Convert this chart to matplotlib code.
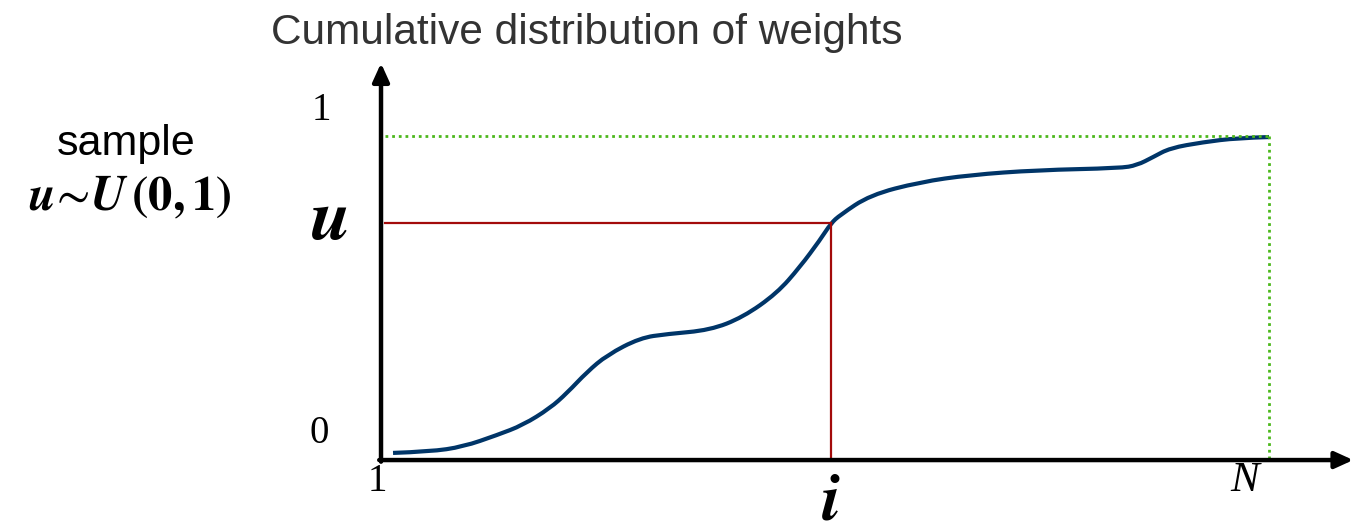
import matplotlib
matplotlib.use("Agg")
import matplotlib.pyplot as plt
from matplotlib.path import Path
from matplotlib.patches import PathPatch

plt.rcParams['mathtext.fontset'] = 'cm'

# cumulative weight curve over particle index 1..N (N drawn as 100)
n_max = 100
idx = [2.34, 6.46, 10.14, 13.93, 16.83, 19.84, 21.74, 23.97, 26.20, 29.88,
       32.89, 37.68, 41.36, 45.15, 47.71, 49.94, 51.17, 52.17, 55.52, 61.09,
       66.67, 74.14, 83.39, 85.29, 87.07, 88.97, 92.64, 96.44, 100.0]
cdf = [0.022, 0.026, 0.041, 0.077, 0.108, 0.160, 0.207, 0.272, 0.324, 0.377,
       0.389, 0.401, 0.441, 0.515, 0.596, 0.679, 0.731, 0.756, 0.818, 0.858,
       0.880, 0.895, 0.901, 0.910, 0.935, 0.963, 0.981, 0.994, 0.997]

# sampled u and the index it selects
u_val = 0.731
i_val = 51.17


def smooth_path(xs, ys):
    # quadratic bezier through midpoints, data points act as control points
    pts = list(zip(xs, ys))
    verts = [pts[0]]
    codes = [Path.MOVETO]
    for k in range(1, len(pts) - 1):
        mid = ((pts[k][0] + pts[k + 1][0]) / 2, (pts[k][1] + pts[k + 1][1]) / 2)
        end = pts[k + 1] if k == len(pts) - 2 else mid
        verts += [pts[k], end]
        codes += [Path.CURVE3, Path.CURVE3]
    return Path(verts, codes)


fig = plt.figure(figsize=(13.53, 5.31), dpi=100)
ax = fig.add_axes([0, 0, 1, 1])
ax.set_xlim(-41.48, 109.37)
ax.set_ylim(-0.219, 1.420)
ax.axis('off')

# axes with arrow heads
arrow = dict(arrowstyle='-|>,head_length=1.1,head_width=0.5', lw=3.2,
             color='black', shrinkA=0, shrinkB=0)
ax.annotate('', xy=(1, 1.225), xytext=(1, -0.005), arrowprops=arrow)
ax.annotate('', xy=(109.4, 0), xytext=(0.8, 0), arrowprops=arrow)

# guide lines at the top of the cdf
green = '#4cb81c'
ax.plot([1.5, n_max], [1, 1], color=green, lw=2, ls=(0, (1, 1.4)))
ax.plot([n_max, n_max], [1, 0], color=green, lw=2, ls=(0, (1, 1.4)))

# lookup of u on the cdf
red = '#a30b0b'
ax.plot([1.5, i_val], [u_val, u_val], color=red, lw=1.6)
ax.plot([i_val, i_val], [u_val, 0], color=red, lw=1.6)

ax.add_patch(PathPatch(smooth_path(idx, cdf), facecolor='none',
                       edgecolor='#003568', lw=3, capstyle='butt'))

serif = 'Liberation Serif'
ax.text(-5.6, 1.08, '1', fontsize=28, family=serif, ha='center', va='center')
ax.text(-5.9, 0.083, '0', fontsize=28, family=serif, ha='center', va='center')
ax.text(0.6, -0.065, '1', fontsize=28, family=serif, ha='center', va='center')
ax.text(97.3, -0.065, 'N', fontsize=31, family=serif, style='italic',
        ha='center', va='center')

ax.text(-4.8, u_val + 0.012, r'$\boldsymbol{u}$', fontsize=52, ha='center',
        va='center')
ax.text(i_val, -0.125, r'$\boldsymbol{i}$', fontsize=48, ha='center',
        va='center')

ax.text(-27.4, 0.975, 'sample', fontsize=31, family='Liberation Sans',
        ha='center', va='center')
ax.text(-27.0, 0.812, r'$\boldsymbol{u}\!\sim\!\boldsymbol{U}\,\mathbf{(0,1)}$',
        fontsize=35, math_fontfamily='stix', ha='center', va='center')

ax.text(23.9, 1.318, 'Cumulative distribution of weights', fontsize=30.5,
        family='Liberation Sans', color='#333333', ha='center', va='center')

fig.savefig('out.png', dpi=100)
